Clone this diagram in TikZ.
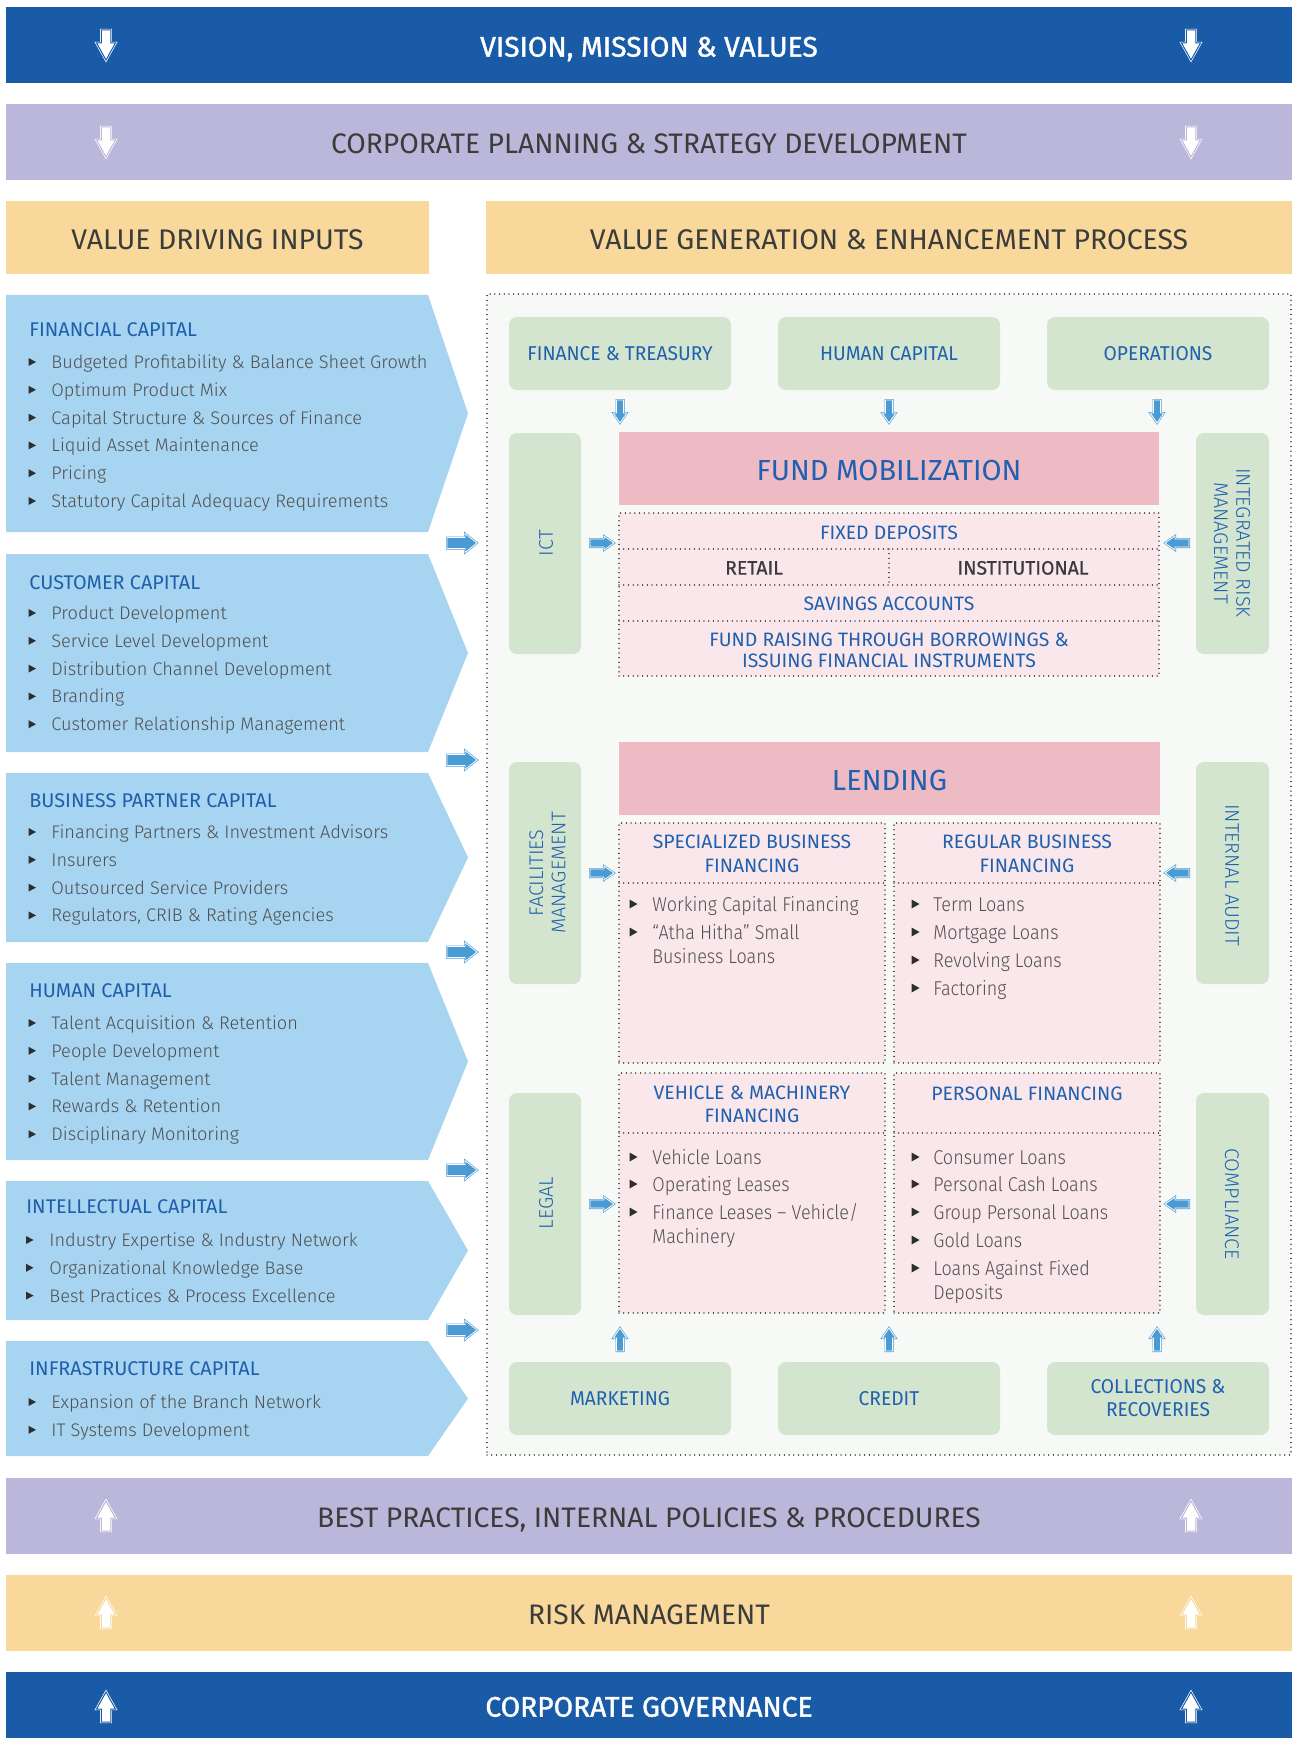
\documentclass[tikz,border=0pt]{standalone}
\usepackage{fontspec}
\setmainfont{Fira Sans}
\newfontfamily\lightsans{Fira Sans Light}
\newfontfamily\heavysans{Fira Sans}[FakeBold=1.4]
\newfontfamily\semisans{Fira Sans}[FakeBold=0.7]
\newfontfamily\midsans{Fira Sans}[FakeStretch=0.96]
\newfontfamily\condlight{Fira Sans Light}[FakeStretch=0.9]

\definecolor{bandblue}{HTML}{1A5BA8}
\definecolor{bandpurple}{HTML}{BBB7DA}
\definecolor{bandyellow}{HTML}{F8D99B}
\definecolor{bandtext}{HTML}{3C3C3C}
\definecolor{chevblue}{HTML}{A6D4F1}
\definecolor{headblue}{HTML}{1E5EAB}
\definecolor{itemgray}{HTML}{505050}
\definecolor{bulletgray}{HTML}{2E2E2E}
\definecolor{boxgreen}{HTML}{D3E5CF}
\definecolor{midblue}{HTML}{2060AE}
\definecolor{pinkhead}{HTML}{EEBBC4}
\definecolor{pinkbody}{HTML}{F9E7EB}
\definecolor{framefill}{HTML}{F7F9F6}
\definecolor{dotgray}{HTML}{333333}
\definecolor{arrowblue}{HTML}{4A9AD3}

% font size with optional line distance
\newcommand\setfs[2][12pt]{\fontsize{#2}{#1}\selectfont}

% node spanning the pixel box (x1,y1)-(x2,y2)
\newcommand\pxbox[7]{%
  \pgfmathsetmacro\bxc{(#3+#5)/2}%
  \pgfmathsetmacro\byc{(#4+#6)/2}%
  \pgfmathsetmacro\bxw{(#5-#3)/2}%
  \pgfmathsetmacro\byh{(#6-#4)/2}%
  \node[inner sep=0pt, outer sep=0pt, minimum width=\bxw pt, minimum height=\byh pt, #2] (#1) at (\bxc,\byc) {#7};}

% block arrow: style, x, y, angle, length, shaft width, head width, head length
\newcommand\blkarrow[8]{%
  \begin{scope}[shift={(#2,#3)}, rotate=#4]
    \path[#1] (-#5/2,-#6/2) -- ({#5/2-#8},-#6/2) -- ({#5/2-#8},-#7/2) -- (#5/2,0)
      -- ({#5/2-#8},#7/2) -- ({#5/2-#8},#6/2) -- (-#5/2,#6/2) -- cycle;
  \end{scope}}

% light blue input panel with pointed right side
\newcommand\chevron[2]{%
  \fill[chevblue] (6,#1) -- (428,#1) -- (468,{(#1+#2)/2}) -- (428,#2) -- (6,#2) -- cycle;}

% bulleted list of the input panels: prefix, bullet x, text x, first y, items
\newcommand\leftlist[5]{%
  \foreach \itm [count=\i] in {#5} {%
    \pgfmathsetmacro\yy{#4+(\i-1)*27.8}
    \fill[bulletgray] (#2-3.5,\yy-4) -- (#2+4,\yy) -- (#2-3.5,\yy+4) -- cycle;
    \node[litem] (#1-\i) at (#3,\yy+6.5) {\itm};
  }}

% bulleted line and continuation line of the lending lists
\newcommand\mitem[5]{%
  \fill[bulletgray] (#2-3.5,#4-4.5) -- (#2+4.5,#4) -- (#2-3.5,#4+4.5) -- cycle;
  \node[mitem] (#1) at (#3,#4+7) {#5};}
\newcommand\mcont[4]{\node[mitem] (#1) at (#2,#3+7) {#4};}

\begin{document}
\begin{tikzpicture}[x=0.5pt, y=-0.5pt,
  capc/.style={text height=#1, text depth=0pt},
  band/.style={capc=11.6pt, text=bandtext, font=\setfs{14.1pt}},
  wband/.style={band, text=white, font=\heavysans\setfs{14.1pt}},
  hdr/.style={capc=11.7pt, fill=bandyellow, text=bandtext, font=\setfs{14.2pt}},
  gbox/.style={fill=boxgreen, rounded corners=4pt, text=midblue,
    font={\midsans\setfs[11.5pt]{10pt}}, align=center},
  vlab/.style={inner sep=0pt, text=midblue, font={\lightsans\setfs[11.2pt]{9.9pt}}, align=center},
  mhead/.style={capc=11.6pt, fill=pinkhead, text=midblue, font=\setfs{14.5pt}},
  cell/.style={inner sep=0pt, text=midblue, font={\setfs[10.5pt]{9.7pt}}, align=center},
  darkcell/.style={cell, text=bandtext, font=\semisans\setfs{9.7pt}},
  dotline/.style={draw=dotgray, line width=0.65pt, dash pattern=on 0.01pt off 2.35pt, line cap=round},
  lhead/.style={anchor=base west, inner sep=0pt, text=headblue, font=\setfs{9.9pt}},
  litem/.style={anchor=base west, inner sep=0pt, text=itemgray, font=\lightsans\setfs{9.1pt}},
  mitem/.style={anchor=base west, inner sep=0pt, text=itemgray, font=\condlight\setfs{10pt}},
  warrow/.style={fill=white, draw=white, double=#1, line width=0.35pt, double distance=0.5pt},
  barrow/.style={fill=arrowblue, draw=arrowblue, double=white, line width=0.3pt, double distance=0.4pt},
]
\useasboundingbox (0,0) rectangle (1292,1738);
\fill[white] (0,0) rectangle (1292,1738);

% ---- horizontal bands ----
\pxbox{vision}{wband, fill=bandblue}{6}{7}{1292}{83}{VISION, MISSION \& VALUES}
\pxbox{planning}{band, fill=bandpurple}{6}{104}{1292}{180}{CORPORATE PLANNING \& STRATEGY DEVELOPMENT}
\pxbox{inputs}{hdr}{6}{201}{429}{274}{VALUE DRIVING INPUTS}
\pxbox{process}{hdr}{486}{201}{1292}{274}{VALUE GENERATION \& ENHANCEMENT PROCESS}
\pxbox{practices}{band, fill=bandpurple}{6}{1478}{1292}{1554}{BEST PRACTICES, INTERNAL POLICIES \& PROCEDURES}
\pxbox{riskmgmt}{band, fill=bandyellow}{6}{1575}{1292}{1651}{RISK MANAGEMENT}
\pxbox{governance}{wband, fill=bandblue}{6}{1672}{1292}{1738}{CORPORATE GOVERNANCE}

\foreach \ax in {106,1191} {
  \blkarrow{warrow=bandblue}{\ax}{45}{270}{30}{9.5}{19}{17}
  \blkarrow{warrow=bandpurple}{\ax}{142}{270}{30}{9.5}{19}{17}
  \blkarrow{warrow=bandpurple}{\ax}{1516}{90}{30}{9.5}{19}{17}
  \blkarrow{warrow=bandyellow}{\ax}{1613}{90}{30}{9.5}{19}{17}
  \blkarrow{warrow=bandblue}{\ax}{1707}{90}{30}{9.5}{19}{17}
}

% ---- value driving inputs ----
\chevron{295}{532}
\node[lhead] (fin) at (29,336.5) {FINANCIAL CAPITAL};
\leftlist{fin}{32}{51}{362}{Budgeted Profitability \& Balance Sheet Growth, Optimum Product Mix,
  Capital Structure \& Sources of Finance, Liquid Asset Maintenance, Pricing,
  Statutory Capital Adequacy Requirements}

\chevron{554}{752}
\node[lhead] (cus) at (29,589.5) {CUSTOMER CAPITAL};
\leftlist{cus}{32}{51}{613}{Product Development, Service Level Development,
  Distribution Channel Development, Branding, Customer Relationship Management}

\chevron{773}{942}
\node[lhead] (bpc) at (29,807.5) {BUSINESS PARTNER CAPITAL};
\leftlist{bpc}{32}{51}{832}{Financing Partners \& Investment Advisors, Insurers,
  Outsourced Service Providers, {Regulators, CRIB \& Rating Agencies}}

\chevron{963}{1160}
\node[lhead] (hum) at (29,997.5) {HUMAN CAPITAL};
\leftlist{hum}{32}{51}{1023}{Talent Acquisition \& Retention, People Development,
  Talent Management, Rewards \& Retention, Disciplinary Monitoring}

\chevron{1181}{1320}
\node[lhead] (int) at (26,1213.5) {INTELLECTUAL CAPITAL};
\leftlist{int}{29.5}{49}{1240}{Industry Expertise \& Industry Network,
  Organizational Knowledge Base, Best Practices \& Process Excellence}

\chevron{1341}{1456}
\node[lhead] (inf) at (29,1375.5) {INFRASTRUCTURE CAPITAL};
\leftlist{inf}{32}{51}{1402}{Expansion of the Branch Network, IT Systems Development}

\foreach \ay in {543,760,952,1170,1330} {
  \blkarrow{barrow}{462}{\ay}{0}{30}{11}{19}{12}
}

% ---- value generation frame ----
\pxbox{frame}{fill=framefill, dotline}{487}{294}{1291}{1455}{}

\pxbox{fintreas}{gbox}{509}{317}{731}{390}{FINANCE \& TREASURY}
\pxbox{humcap}{gbox}{778}{317}{1000}{390}{HUMAN CAPITAL}
\pxbox{oper}{gbox}{1047}{317}{1269}{390}{OPERATIONS}
\pxbox{mark}{gbox}{509}{1362}{731}{1435}{MARKETING}
\pxbox{credit}{gbox}{778}{1362}{1000}{1435}{CREDIT}
\pxbox{collect}{gbox}{1047}{1362}{1269}{1435}{COLLECTIONS \&\\RECOVERIES}

\pxbox{ict}{gbox}{509}{433}{581}{654}{}
\pxbox{irm}{gbox}{1196}{433}{1269}{654}{}
\pxbox{facil}{gbox}{509}{762}{581}{984}{}
\pxbox{audit}{gbox}{1196}{762}{1269}{984}{}
\pxbox{legal}{gbox}{509}{1093}{581}{1315}{}
\pxbox{compl}{gbox}{1196}{1093}{1269}{1315}{}
\node[vlab, rotate=90] (ict-t) at (546,543) {ICT};
\node[vlab, rotate=-90] (irm-t) at (1232,543) {INTEGRATED RISK\\MANAGEMENT};
\node[vlab, rotate=90] (facil-t) at (547.5,873) {FACILITIES\\MANAGEMENT};
\node[vlab, rotate=-90] (audit-t) at (1232,875) {INTERNAL AUDIT};
\node[vlab, rotate=90] (legal-t) at (546,1203) {LEGAL};
\node[vlab, rotate=-90] (compl-t) at (1232,1204) {COMPLIANCE};

\foreach \ax in {620,889,1157} {
  \blkarrow{barrow}{\ax}{411.5}{270}{23}{7}{13.5}{10}
  \blkarrow{barrow}{\ax}{1339.5}{90}{23}{7}{13.5}{10}
}
\foreach \ay in {543,873,1204} {
  \blkarrow{barrow}{602}{\ay}{0}{24}{8}{14}{10}
  \blkarrow{barrow}{1177}{\ay}{180}{24}{8}{14}{10}
}

% fund mobilization
\pxbox{fundmob}{mhead}{619}{432}{1159}{505}{FUND MOBILIZATION}
\pxbox{fundtab}{fill=pinkbody, dotline}{619}{513}{1159}{676}{}
\draw[dotline] (619,549) -- (1159,549) (619,585) -- (1159,585) (619,621) -- (1159,621)
  (889,549) -- (889,585);
\node[cell, capc=7.6pt] (fixed) at (889,532) {FIXED DEPOSITS};
\node[darkcell, capc=7.6pt] (retail) at (754,567) {RETAIL};
\node[darkcell, capc=7.6pt] (instit) at (1023,567) {INSTITUTIONAL};
\node[cell, capc=7.6pt] (savings) at (889,603) {SAVINGS ACCOUNTS};
\node[cell] (raising) at (889,650) {FUND RAISING THROUGH BORROWINGS \&\\ISSUING FINANCIAL INSTRUMENTS};

% lending
\pxbox{lending}{mhead}{619}{742}{1160}{815}{LENDING}
\pxbox{specbox}{fill=pinkbody, dotline}{619}{823}{885}{1063}{}
\pxbox{regbox}{fill=pinkbody, dotline}{894}{823}{1160}{1063}{}
\pxbox{vehbox}{fill=pinkbody, dotline}{619}{1073}{885}{1313}{}
\pxbox{perbox}{fill=pinkbody, dotline}{894}{1073}{1160}{1313}{}
\draw[dotline] (619,883) -- (885,883) (894,883) -- (1160,883)
  (619,1133) -- (885,1133) (894,1133) -- (1160,1133);

\node[cell, font={\setfs[12pt]{9.7pt}}] (spec-h) at (752,854) {SPECIALIZED BUSINESS\\FINANCING};
\node[cell, font={\setfs[12pt]{9.7pt}}] (reg-h) at (1027,854) {REGULAR BUSINESS\\FINANCING};
\node[cell, font={\setfs[11.5pt]{9.7pt}}] (veh-h) at (752,1104.5) {VEHICLE \& MACHINERY\\FINANCING};
\node[cell, capc=7.6pt, font={\setfs{9.7pt}}] (per-h) at (1027,1093) {PERSONAL FINANCING};

\mitem{spec-1}{633}{652}{904}{Working Capital Financing}
\mitem{spec-2}{633}{652}{932}{“Atha Hitha” Small}
\mcont{spec-3}{652}{956}{Business Loans}

\mitem{reg-1}{915}{933}{904}{Term Loans}
\mitem{reg-2}{915}{933}{932}{Mortgage Loans}
\mitem{reg-3}{915}{933}{960}{Revolving Loans}
\mitem{reg-4}{915}{933}{988}{Factoring}

\mitem{veh-1}{633}{652}{1157}{Vehicle Loans}
\mitem{veh-2}{633}{652}{1184}{Operating Leases}
\mitem{veh-3}{633}{652}{1212}{Finance Leases – Vehicle/}
\mcont{veh-4}{652}{1236}{Machinery}

\mitem{per-1}{915}{933}{1157}{Consumer Loans}
\mitem{per-2}{915}{933}{1184}{Personal Cash Loans}
\mitem{per-3}{915}{933}{1212}{Group Personal Loans}
\mitem{per-4}{915}{933}{1240}{Gold Loans}
\mitem{per-5}{915}{933}{1268}{Loans Against Fixed}
\mcont{per-6}{933}{1292}{Deposits}
\end{tikzpicture}
\end{document}
